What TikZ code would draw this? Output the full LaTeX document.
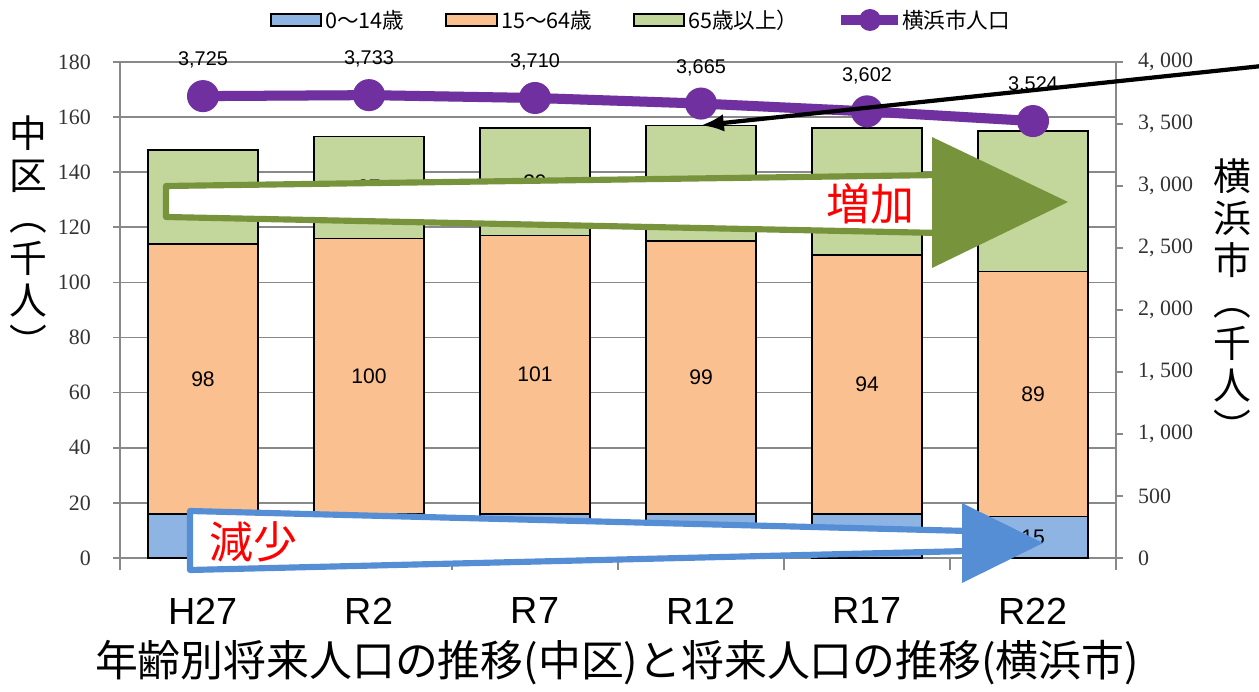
\documentclass[tikz,border=0pt]{standalone}
\usepackage{fontspec}
\setmainfont{Liberation Sans}
\newfontfamily\cjk{Noto Sans CJK JP}
\newfontfamily\tickfont{Liberation Serif}
\usetikzlibrary{arrows.meta}
\definecolor{kidsblue}{HTML}{8EB4E3}
\definecolor{workorange}{HTML}{FAC090}
\definecolor{eldergreen}{HTML}{C3D69B}
\definecolor{cityviolet}{HTML}{7030A0}
\definecolor{upgreen}{HTML}{77933C}
\definecolor{downblue}{HTML}{558ED5}
\definecolor{gridgray}{HTML}{898989}
\tikzset{
  gridline/.style={draw=gridgray, line width=0.9pt},
  bar/.style={draw=black, line width=0.9pt},
  barlabel/.style={font=\fontsize{12}{14}\selectfont},
  citylabel/.style={font=\fontsize{11.3}{13}\selectfont},
  ticklabel/.style={font=\tickfont\fontsize{12.5}{14}\selectfont, text=black!80},
  catlabel/.style={font=\fontsize{21.5}{24}\selectfont},
  legendtext/.style={anchor=west, font=\cjk\fontsize{12.3}{14}\selectfont, inner sep=1pt},
  vtitle/.style={align=center, font=\cjk\fontsize{21.5}{23.8}\selectfont, inner sep=0pt},
  trendtext/.style={text=red, font=\cjk\fontsize{25}{28}\selectfont}
}
\begin{document}
\begin{tikzpicture}[x=0.02cm,y=-0.02cm]
\useasboundingbox (0,0) rectangle (1259,692);
% grid and axes
\foreach \v in {0,20,...,180}
  \draw[gridline] (113,{558-2.756*\v}) -- (1116,{558-2.756*\v});
\foreach \v in {0,20,...,180}
  \node[ticklabel, anchor=east] at (97,{558-2.756*\v}) {\v};
\foreach \v/\t in {0/0,500/500,1000/{1, 000},1500/{1, 500},2000/{2, 000},2500/{2, 500},3000/{3, 000},3500/{3, 500},4000/{4, 000}}
{
  \draw[gridline] (1116,{558-0.124*\v}) -- (1123,{558-0.124*\v});
  \node[ticklabel, anchor=west] at (1132,{558-0.124*\v}) {\t};
}
\draw[gridline] (120,62) -- (120,570);
\draw[gridline] (1116,62) -- (1116,570);
\foreach \k in {1,...,5}
  \draw[gridline] ({120+166*\k},558) -- ({120+166*\k},570);

% stacked bars
\foreach \i/\lab/\a/\b/\c/\p/\ptxt in {0/H27/16/98/34/3725/{3,725},1/R2/16/100/37/3733/{3,733},2/R7/16/101/39/3710/{3,710},3/R12/16/99/42/3665/{3,665},4/R17/16/94/46/3602/{3,602},5/R22/15/89/51/3524/{3,524}}
{
  \pgfmathsetmacro\cx{203+166*\i}
  \pgfmathsetmacro\ya{558-2.756*\a}
  \pgfmathsetmacro\yb{558-2.756*(\a+\b)}
  \pgfmathsetmacro\yc{558-2.756*(\a+\b+\c)}
  \filldraw[bar, fill=kidsblue] (\cx-55,558) rectangle (\cx+55,\ya);
  \filldraw[bar, fill=workorange] (\cx-55,\ya) rectangle (\cx+55,\yb);
  \filldraw[bar, fill=eldergreen] (\cx-55,\yb) rectangle (\cx+55,\yc);
  \coordinate (top\i) at (\cx,\yc);
  \coordinate (kidsmid\i) at (\cx,{(558+\ya)/2});
  \coordinate (eldermid\i) at (\cx,{(\yb+\yc)/2});
  \node[barlabel] (work\i) at (\cx,{(\ya+\yb)/2}) {\b};
  \coordinate (city\i) at (\cx,{558-0.124*\p});
  \node[citylabel] (citylab\i) at (\cx,{558-0.124*\p-36}) {\ptxt};
  \node[catlabel] (cat\i) at (\cx,611) {\lab};
}
% labels that peek out from under the arrows
\node[barlabel] (elder1) at (eldermid1) {37};
\node[barlabel] (elder2) at (eldermid2) {39};
\node[barlabel] (kids5) at (kidsmid5) {15};

% trend arrows
\filldraw[fill=white, draw=upgreen, line width=3.5pt, line join=round] (166,186) -- (940,175) -- (940,233) -- (166,217) -- cycle;
\fill[upgreen] (932,137) -- (1068,202) -- (932,268) -- cycle;
\node[trendtext] (up) at (870,204) {増加};
\filldraw[fill=white, draw=downblue, line width=3.5pt, line join=round] (190,511) -- (968,531) -- (968,551) -- (190,570) -- cycle;
\fill[downblue] (962,503) -- (1043,543) -- (962,583) -- cycle;
\node[trendtext] (down) at (253,542) {減少};

% city population line
\begin{scope}[shift={(3,5)}, opacity=0.25]
  \draw[gray, line width=5.7pt] (city0) -- (city1) -- (city2) -- (city3) -- (city4) -- (city5);
  \foreach \i in {0,...,5}
    \fill[gray] (city\i) circle (16);
\end{scope}
\draw[cityviolet, line width=5.7pt] (city0) -- (city1) -- (city2) -- (city3) -- (city4) -- (city5);
\foreach \i in {0,...,5}
  \fill[cityviolet] (city\i) circle (16);

% callout arrow
\coordinate (callfrom) at (1262,66);
\draw[line width=2.4pt, -{Latex[length=13pt,width=10pt]}] (callfrom) -- (top3);

% legend
\filldraw[bar, fill=kidsblue] (271,14) rectangle (321,26);
\node[legendtext] (legkids) at (323,20) {0～14歳};
\filldraw[bar, fill=workorange] (446,14) rectangle (497,26);
\node[legendtext] (legwork) at (499,20) {15～64歳};
\filldraw[bar, fill=eldergreen] (634,14) rectangle (684,26);
\node[legendtext] (legelder) at (686,20) {65歳以上）};
\draw[cityviolet, line width=5.7pt] (841,20) -- (898,20);
\fill[cityviolet] (870,20) circle (11);
\node[legendtext] (legcity) at (900,20) {横浜市人口};

% axis titles
\node[vtitle] (lefttitle) at (28,236) {中\\区\\︵\\千\\人\\︶};
\node[vtitle] (righttitle) at (1232,300) {横\\浜\\市\\︵\\千\\人\\︶};
\node[font=\cjk\fontsize{24.4}{27}\selectfont] (title) at (617,663) {年齢別将来人口の推移(中区)と将来人口の推移(横浜市)};
\end{tikzpicture}
\end{document}
